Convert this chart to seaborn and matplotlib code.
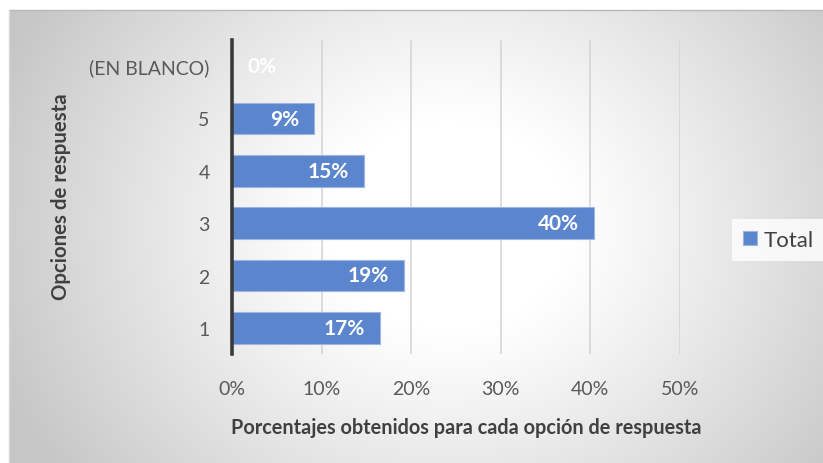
import numpy as np
import pandas as pd
import matplotlib
matplotlib.use("Agg")
import matplotlib.pyplot as plt
import seaborn as sns

# Data
categorias = ["(EN BLANCO)", "5", "4", "3", "2", "1"]
porcentajes = [0.0, 0.092, 0.147, 0.404, 0.192, 0.1651]
ticks_x = [0.0, 0.1, 0.2, 0.3, 0.4, 0.5]
etiquetas_x = ["0%", "10%", "20%", "30%", "40%", "50%"]

sns.set_theme(style="white")
plt.rcParams["font.family"] = ["Lato", "DejaVu Sans"]

W, H = 823, 464
fig = plt.figure(figsize=(W / 100, H / 100), dpi=100)
fig.patch.set_facecolor("white")

# Radial gradient backdrop of the chart area
bg = fig.add_axes([9 / W, 0, (W - 9) / W, (H - 11) / H])
bg.set_axis_off()
gx, gy = np.meshgrid(np.arange(W - 9), np.arange(H - 11))
cx, cy = 440, 215
r = np.hypot(gx - cx, (gy - cy) * 1.15)
t = np.clip((r - 120) / 360, 0, 1) ** 1.1
shade = 1.0 - 0.22 * t
bg.imshow(np.dstack([shade] * 3), aspect="auto", extent=[0, 1, 0, 1], origin="upper")
fig.add_artist(plt.Line2D([9 / W, 1], [(H - 11) / H] * 2, color="#b8b8b8", lw=1))
fig.add_artist(plt.Line2D([9 / W] * 2, [0, (H - 11) / H], color="#d8d8d8", lw=1))

ax = fig.add_axes([232 / W, 1 - 355 / H, (680 - 232) / W, (355 - 41) / H])
ax.set_facecolor("none")

df = pd.DataFrame({"Opción": categorias, "Porcentaje": porcentajes})
sns.barplot(data=df, x="Porcentaje", y="Opción", order=categorias, orient="h",
            color="#5b86cd", saturation=1, width=0.6, edgecolor="#9db5e0",
            linewidth=0.8, ax=ax, zorder=3)

ax.set_xlim(0, 0.5)
ax.set_xticks(ticks_x)
ax.set_xticklabels(etiquetas_x)
ax.xaxis.grid(True, color="#d3d3d3", lw=1.1, zorder=0)
ax.yaxis.grid(False)
for s in ["top", "right", "bottom"]:
    ax.spines[s].set_visible(False)
ax.spines["left"].set_color("#3a3a3a")
ax.spines["left"].set_linewidth(2.6)
ax.spines["left"].set_zorder(5)
ax.tick_params(axis="x", length=0, pad=19, labelsize=14, labelcolor="#595959")
ax.tick_params(axis="y", length=0, pad=16, labelsize=14, labelcolor="#595959")
ax.set_xlabel("")
ax.set_ylabel("")

# Value labels inside the bar ends
for i, v in enumerate(porcentajes):
    txt = f"{v * 100:.0f}%"
    if v > 0.02:
        ax.annotate(txt, (v, i), xytext=(-11, 0), textcoords="offset points",
                    ha="right", va="center", color="white", fontsize=15,
                    fontweight="bold", zorder=6)
    else:
        ax.annotate(txt, (v, i), xytext=(11, 0), textcoords="offset points",
                    ha="left", va="center", color="white", fontsize=15,
                    fontweight="bold", zorder=6)

fig.text(466 / W, 1 - 428 / H, "Porcentajes obtenidos para cada opción de respuesta",
         ha="center", va="center", fontsize=14.3, fontweight="bold", color="#404040")
fig.text(61 / W, 1 - 197 / H, "Opciones de respuesta", rotation=90,
         ha="center", va="center", fontsize=14.7, fontweight="bold", color="#404040")

leg = ax.legend(handles=[plt.Rectangle((0, 0), 1, 1, facecolor="#5b86cd",
                                       edgecolor="#9db5e0", lw=0.8)],
                labels=["Total"], loc="center left",
                bbox_to_anchor=(732 / W, 1 - 241 / H), bbox_transform=fig.transFigure,
                borderaxespad=0, frameon=True, fontsize=16, handlelength=0.62,
                handleheight=0.62, handletextpad=0.3, borderpad=0.5,
                labelcolor="#404040")
leg.get_frame().set_facecolor((1, 1, 1, 0.12))
leg.get_frame().set_edgecolor("none")
leg.get_frame().set_boxstyle("square", pad=0)

fig.savefig("out.png", dpi=100)
